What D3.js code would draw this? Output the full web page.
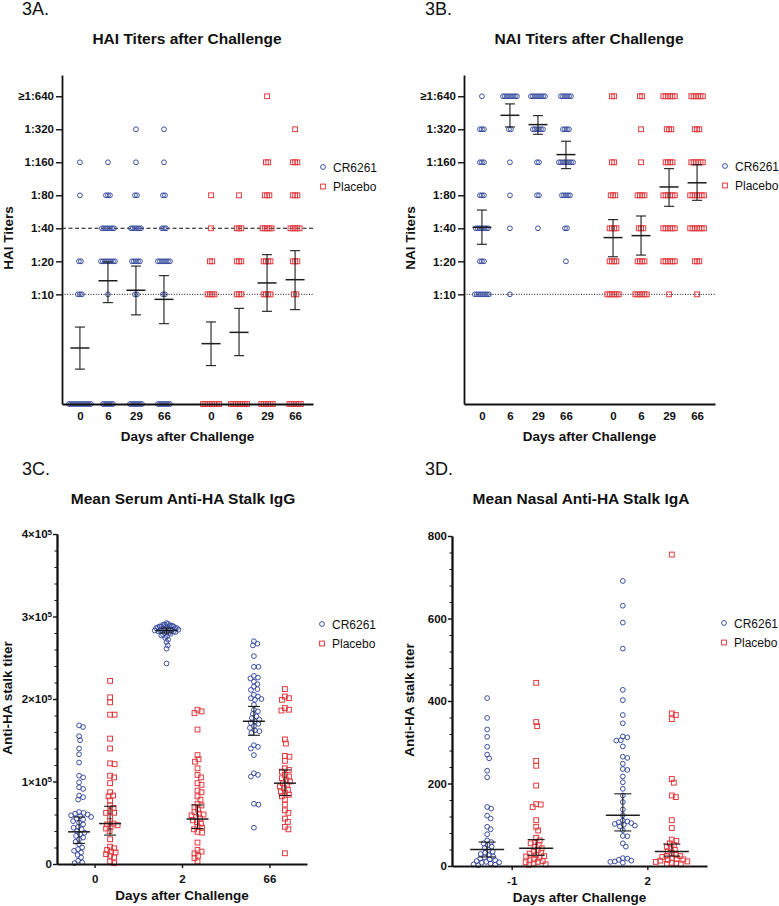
<!DOCTYPE html>
<html>
<head>
<meta charset="utf-8">
<script src="https://cdn.jsdelivr.net/npm/d3@7/dist/d3.min.js"></script>
<style>
body{margin:0;background:#fff;}
text{font-family:"Liberation Sans",Arial,sans-serif;fill:#111;}
</style>
</head>
<body>
<script>
// ---------- data ----------
// titer levels, top to bottom; 1 = below detection (drawn on the axis)
var titerLevels = [640, 320, 160, 80, 40, 20, 10, 1];
var titerTickValues = [640, 320, 160, 80, 40, 20, 10];
var titerTickLabels = ["≥1:640", "1:320", "1:160", "1:80", "1:40", "1:20", "1:10"];
var titerDays = ["0", "6", "29", "66"];

// number of subjects at each titer level, per day (order of titerLevels)
var haiCR6261Counts = [
  [0, 0, 1, 1, 0, 2, 3, 12],
  [0, 0, 1, 3, 7, 8, 1, 6],
  [0, 1, 1, 2, 6, 5, 2, 7],
  [0, 1, 1, 2, 3, 7, 2, 7]
];
var haiPlaceboCounts = [
  [0, 0, 0, 1, 1, 2, 4, 8],
  [0, 0, 0, 1, 3, 3, 3, 8],
  [1, 0, 2, 3, 5, 4, 4, 6],
  [0, 1, 3, 3, 5, 3, 2, 6]
];
var naiCR6261Counts = [
  [1, 3, 3, 3, 7, 3, 8, 0],
  [8, 2, 1, 1, 1, 0, 1, 0],
  [8, 6, 2, 2, 1, 0, 0, 0],
  [6, 4, 8, 5, 2, 1, 0, 0]
];
var naiPlaceboCounts = [
  [2, 0, 2, 3, 4, 4, 6, 0],
  [2, 1, 1, 4, 3, 4, 6, 0],
  [6, 3, 4, 6, 6, 6, 1, 0],
  [6, 3, 6, 7, 7, 3, 1, 0]
];
// geometric mean, lower, upper
var haiCR6261Stats = [[3.24, 2.08, 5.03], [13.3, 8.4, 19.7], [10.9, 6.5, 18.1], [9.0, 5.4, 14.8]];
var haiPlaceboStats = [[3.55, 2.24, 5.6], [4.5, 2.76, 7.45], [12.7, 7.0, 23], [13.6, 7.25, 25]];
var naiCR6261Stats = [[40.8, 28.6, 58.7], [429, 336, 545], [353, 288, 426], [188, 140, 249]];
var naiPlaceboStats = [[32.9, 22, 48], [34.3, 22.8, 51.8], [95.3, 63.5, 140], [104, 72, 152]];

// serum anti-HA stalk IgG titers (thousands)
var serumDays = ["0", "2", "66"];
var serumCR6261 = [
  [168,166,155,150,140,133,123,107,105,99,93,91,83,81,78,63,62,61,60,59,58,57,55,54,52,50,48,45,44,42,40,38,36,34,32,30,27,24,20,18,16,14,11,8,4,2,1],
  [292,291,290,290,289,289,288,288,288,287,287,286,286,286,285,285,285,284,284,284,283,283,283,282,282,281,281,280,280,279,278,277,276,274,272,269,265,261,243],
  [270,267,265,252,239,239,228,226,225,221,218,215,212,211,205,203,201,200,199,193,187,185,182,179,177,175,173,171,170,167,165,162,161,159,144,142,140,132,110,108,106,73,72,44]
];
var serumPlacebo = [
  [222,202,196,181,181,152,140,122,121,107,105,98,87,83,82,77,71,68,64,62,62,58,52,49,48,47,45,43,40,30,21,19,17,15,14,12,10,8,3,1],
  [187,185,183,163,132,127,124,116,108,105,98,96,89,87,82,78,73,71,69,66,63,61,60,59,57,55,53,51,49,45,44,42,39,38,26,17,15,13,10,7,3],
  [212,203,201,199,189,187,186,151,146,131,130,125,116,114,112,108,106,104,102,100,98,96,94,92,90,88,86,84,82,78,72,65,62,55,51,45,42,13]
];
var serumCR6261Stats = [[39, 25, 57], [283, 280, 286], [173, 156, 191]];
var serumPlaceboStats = [[49, 35, 70], [54.5, 43, 71.5], [98, 83, 114]];
var serumTicks = [0, 100, 200, 300, 400];

// nasal anti-HA stalk IgA titers
var nasalDays = ["-1", "2"];
var nasalCR6261 = [
  [407,359,331,313,289,270,261,231,215,143,139,122,115,95,89,77,62,58,55,51,47,43,39,35,32,29,26,23,21,18,16,14,12,10,9,8,6,4,3,2],
  [691,631,590,527,427,402,366,346,314,312,305,304,290,265,262,248,235,233,217,203,187,171,155,137,123,110,108,106,104,102,100,98,96,87,73,72,55,47,19,18,15,13,11,10,8]
];
var nasalPlacebo = [
  [444,349,339,255,243,195,150,149,143,111,95,86,68,62,58,55,51,47,43,39,35,32,30,26,24,23,20,17,14,12,10,9,6,4,3],
  [755,370,366,356,211,202,171,167,111,92,64,61,55,51,47,43,39,35,31,27,25,24,22,19,17,16,15,13,11,10,8,6,5,4]
];
var nasalCR6261Stats = [[40, 22, 58], [123, 85, 175]];
var nasalPlaceboStats = [[43, 26, 64], [35, 24, 53]];
var nasalTicks = [0, 200, 400, 600, 800];

var groups = ["CR6261", "Placebo"];
var blue = "#3b4ea1", red = "#e23a3f";

// ---------- drawing ----------
var svg = d3.select("body").append("svg").attr("width", 779).attr("height", 906);

function marker(g, kind, x, y) {
  if (kind == 0) {
    g.append("circle").attr("cx", x).attr("cy", y).attr("r", 2.4)
      .attr("fill", "none").attr("stroke", blue).attr("stroke-width", 1);
  } else {
    g.append("rect").attr("x", x - 2.4).attr("y", y - 2.4).attr("width", 4.8).attr("height", 4.8)
      .attr("fill", "none").attr("stroke", red).attr("stroke-width", 1);
  }
}

function errBar(g, x, y, st, mw, cw) {
  var c = "#1c1c1c";
  g.append("line").attr("x1", x).attr("x2", x).attr("y1", y(st[2])).attr("y2", y(st[1]))
    .attr("stroke", c).attr("stroke-width", 1.1);
  g.append("line").attr("x1", x - cw).attr("x2", x + cw).attr("y1", y(st[2])).attr("y2", y(st[2]))
    .attr("stroke", c).attr("stroke-width", 1.1);
  g.append("line").attr("x1", x - cw).attr("x2", x + cw).attr("y1", y(st[1])).attr("y2", y(st[1]))
    .attr("stroke", c).attr("stroke-width", 1.1);
  g.append("line").attr("x1", x - mw).attr("x2", x + mw).attr("y1", y(st[0])).attr("y2", y(st[0]))
    .attr("stroke", c).attr("stroke-width", 1.5);
}

function headings(ox, letter, title, tx, ty, ylab, ylx, yly) {
  svg.append("text").attr("x", ox).attr("y", ty - 29).style("font-size", "18px").text(letter);
  svg.append("text").attr("x", tx).attr("y", ty).attr("text-anchor", "middle")
    .style("font-size", "15.5px").style("font-weight", "bold").text(title);
  svg.append("text").attr("transform", "translate(" + ylx + "," + yly + ") rotate(-90)")
    .attr("text-anchor", "middle").style("font-size", "13.5px").style("font-weight", "bold").text(ylab);
}

function legend(x, y) {
  groups.forEach(function (name, i) {
    marker(svg, i, x, y + i * 19.5);
    svg.append("text").attr("x", x + 10).attr("y", y + i * 19.5 + 4.5)
      .style("font-size", "12px").text(name);
  });
}

function styleAxis(g) {
  g.select(".domain").attr("stroke", "#111").attr("stroke-width", 1.8);
  g.selectAll(".tick line").attr("stroke", "#111").attr("stroke-width", 1.4);
  g.selectAll("text").style("font-size", "11.5px").style("font-weight", "bold")
    .style("font-family", "'Liberation Sans',Arial,sans-serif").attr("fill", "#111");
}

// panels A / B
function titerPanel(x0, x1, crCounts, plCounts, crStats, plStats, dashed40) {
  var g = svg.append("g");
  var y = d3.scaleLog().base(2).domain([1, 1000]).range([404, 75]);
  var x = d3.scaleLinear().domain([-0.64, 8.32]).range([x0, x1]);
  var slots = [[0, 1, 2, 3], [4.68, 5.68, 6.68, 7.68]];

  // reference lines
  if (dashed40) {
    g.append("line").attr("x1", x0).attr("x2", x1).attr("y1", y(40)).attr("y2", y(40))
      .attr("stroke", "#111").attr("stroke-width", 1.1).attr("stroke-dasharray", "4,2.5");
  }
  g.append("line").attr("x1", x0).attr("x2", x1).attr("y1", y(10)).attr("y2", y(10))
    .attr("stroke", "#111").attr("stroke-width", 1).attr("stroke-dasharray", "1,1.6");

  [crCounts, plCounts].forEach(function (counts, gi) {
    counts.forEach(function (row, di) {
      var cx = x(slots[gi][di]);
      row.forEach(function (n, li) {
        var sp = gi == 0 ? 2 : 2.3;
        for (var k = 0; k < n; k++) {
          marker(g, gi, cx + (k - (n - 1) / 2) * sp, y(titerLevels[li]));
        }
      });
    });
  });
  [crStats, plStats].forEach(function (stats, gi) {
    stats.forEach(function (st, di) {
      errBar(g, x(slots[gi][di]), y, st, 9.5, 5);
    });
  });

  var ya = g.append("g").attr("transform", "translate(" + x0 + ",0)")
    .call(d3.axisLeft(y).tickValues(titerTickValues)
      .tickFormat(function (d, i) { return titerTickLabels[i]; })
      .tickSize(6).tickSizeOuter(0).tickPadding(2));
  styleAxis(ya);
  var allSlots = slots[0].concat(slots[1]);
  var allDays = titerDays.concat(titerDays);
  var xa = g.append("g").attr("transform", "translate(0,404)")
    .call(d3.axisBottom(x).tickValues(allSlots)
      .tickFormat(function (d, i) { return allDays[i]; })
      .tickSize(0).tickSizeOuter(0).tickPadding(8));
  styleAxis(xa);
  g.append("text").attr("x", (x0 + x1) / 2).attr("y", 441).attr("text-anchor", "middle")
    .style("font-size", "13.5px").style("font-weight", "bold").text("Days after Challenge");
}

// simple beeswarm, squeezed when wider than cap
function swarm(values, yScale, diam, cap) {
  var pts = values.slice().sort(function (a, b) { return b - a; })
    .map(function (v) { return { v: v, y: yScale(v) }; });
  var placed = [];
  pts.forEach(function (p) {
    for (var k = 0; k < 400; k++) {
      var off = (k % 2 ? 1 : -1) * Math.ceil(k / 2) * 0.5;
      var ok = placed.every(function (q) {
        var dx = q.x - off, dy = q.y - p.y;
        return dx * dx + dy * dy >= diam * diam;
      });
      if (ok) { p.x = off; break; }
    }
    placed.push(p);
  });
  var wide = d3.max(pts, function (p) { return Math.abs(p.x); });
  if (wide > cap) pts.forEach(function (p) { p.x = p.x * cap / wide; });
  return pts;
}

// panels C / D
function dotPanel(x0, x1, y0, days, crData, plData, crStats, plStats, yMax, ticks, minorStep, tickFmt, pad, off, mw, cw, cap) {
  var g = svg.append("g");
  var y = d3.scaleLinear().domain([0, yMax]).range([y0, y0 - 330]);
  var x = d3.scalePoint().domain(days).range([x0, x1]).padding(pad);

  [crData, plData].forEach(function (data, gi) {
    data.forEach(function (vals, di) {
      var cx = x(days[di]) + (gi == 0 ? -off : off);
      swarm(vals, y, 4.2, cap).forEach(function (p) { marker(g, gi, cx + p.x, p.y); });
    });
  });
  [crStats, plStats].forEach(function (stats, gi) {
    stats.forEach(function (st, di) {
      errBar(g, x(days[di]) + (gi == 0 ? -off : off), y, st, mw, cw);
    });
  });

  var minor = d3.range(0, yMax + 0.001, minorStep).filter(function (v) { return ticks.indexOf(v) < 0; });
  var ym = g.append("g").attr("transform", "translate(" + x0 + ",0)")
    .call(d3.axisLeft(y).tickValues(minor).tickFormat("").tickSize(2.5).tickSizeOuter(0));
  styleAxis(ym);
  ym.selectAll(".tick line").attr("stroke-width", 1);
  var ya = g.append("g").attr("transform", "translate(" + x0 + ",0)")
    .call(d3.axisLeft(y).tickValues(ticks).tickFormat("").tickSize(4).tickSizeOuter(0));
  styleAxis(ya);
  ya.selectAll(".tick").append("text").attr("x", -5).attr("dy", "0.32em")
    .attr("text-anchor", "end").attr("fill", "#111")
    .style("font-size", "11.5px").style("font-weight", "bold")
    .each(function (d) { tickFmt(d3.select(this), d); });
  var xa = g.append("g").attr("transform", "translate(0," + y0 + ")")
    .call(d3.axisBottom(x).tickSize(4).tickSizeOuter(0).tickPadding(7));
  styleAxis(xa);
  g.append("text").attr("x", (x0 + x1) / 2).attr("y", y0 + 36).attr("text-anchor", "middle")
    .style("font-size", "13.5px").style("font-weight", "bold").text("Days after Challenge");
}

function sciFmt(t, d) {
  if (d == 0) { t.text("0"); return; }
  t.append("tspan").text(d / 100 + "×10");
  t.append("tspan").attr("dy", "-0.45em").style("font-size", "8px").text("5");
}
function plainFmt(t, d) { t.text(d); }

headings(22, "3A.", "HAI Titers after Challenge", 187, 44, "HAI Titers", 13, 238);
titerPanel(62, 313, haiCR6261Counts, haiPlaceboCounts, haiCR6261Stats, haiPlaceboStats, true);
legend(323, 167);

headings(425, "3B.", "NAI Titers after Challenge", 589, 44, "NAI Titers", 415, 238);
titerPanel(464, 715, naiCR6261Counts, naiPlaceboCounts, naiCR6261Stats, naiPlaceboStats, false);
legend(725, 166);

headings(22, "3C.", "Mean Serum Anti-HA Stalk IgG", 183, 504, "Anti-HA stalk titer", 12, 698);
dotPanel(57, 307, 864, serumDays, serumCR6261, serumPlacebo, serumCR6261Stats, serumPlaceboStats,
  400, serumTicks, 20, sciFmt, 0.43, 15.5, 11, 6, 12);
legend(322, 624);

headings(425, "3D.", "Mean Nasal Anti-HA Stalk IgA", 581, 504, "Anti-HA stalk titer", 414, 700);
dotPanel(452, 707, 866, nasalDays, nasalCR6261, nasalPlacebo, nasalCR6261Stats, nasalPlaceboStats,
  800, nasalTicks, 40, plainFmt, 0.44, 24.5, 17, 8.5, 17);
legend(724, 623);
</script>
</body>
</html>
